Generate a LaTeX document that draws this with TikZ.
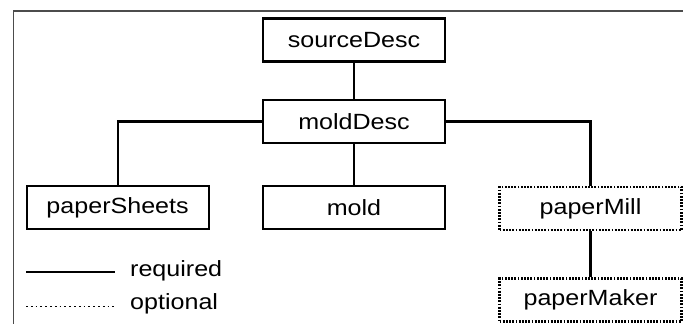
\documentclass[tikz,border=0pt]{standalone}
\usepackage{fontspec}
\setmainfont{Liberation Sans}[FakeStretch=1.14]
\begin{document}
\begin{tikzpicture}[x=1pt,y=-1pt,
  lbl/.style={font=\fontsize{22}{26}\selectfont},
  elem/.style={lbl,draw=black,line width=2.2pt,minimum width=182pt,minimum height=43pt,inner sep=0pt},
  optelem/.style={elem,line width=2.2pt,dash pattern=on 1.8pt off 1.4pt},
  conn/.style={line width=2.2pt},
  frame/.style={draw=black!70,line width=1.3pt}]
\useasboundingbox (0,0) rectangle (683,324);
\draw[frame] (13.5,324) -- (13.5,11) -- (683,11);
\node[elem] (src) at (354,40) {sourceDesc};
\node[elem] (md) at (354,121.5) {moldDesc};
\node[elem] (ps) at (117.6,207.5) {paperSheets};
\node[elem] (mo) at (354,207.5) {mold};
\node[optelem] (pm) at (590.5,208.5) {paperMill};
\node[optelem] (pk) at (590.5,300) {paperMaker};
\draw[conn] (src) -- (md);
\draw[conn] (md) -- (mo);
\draw[conn] (md.west) -| (ps.north);
\draw[conn] (md.east) -| (pm.north);
\draw[conn] (pm) -- (pk);
\coordinate (r1) at (26,272);
\coordinate (r2) at (115,272);
\coordinate (o1) at (26,306.5);
\coordinate (o2) at (115,306.5);
\draw[conn] (r1) -- (r2);
\draw[line width=1.8pt,dash pattern=on 1.8pt off 3pt] (o1) -- (o2);
\node[lbl,anchor=west,inner sep=0pt] (lr) at (130,271) {required};
\node[lbl,anchor=west,inner sep=0pt] (lo) at (130,304) {optional};
\end{tikzpicture}
\end{document}
